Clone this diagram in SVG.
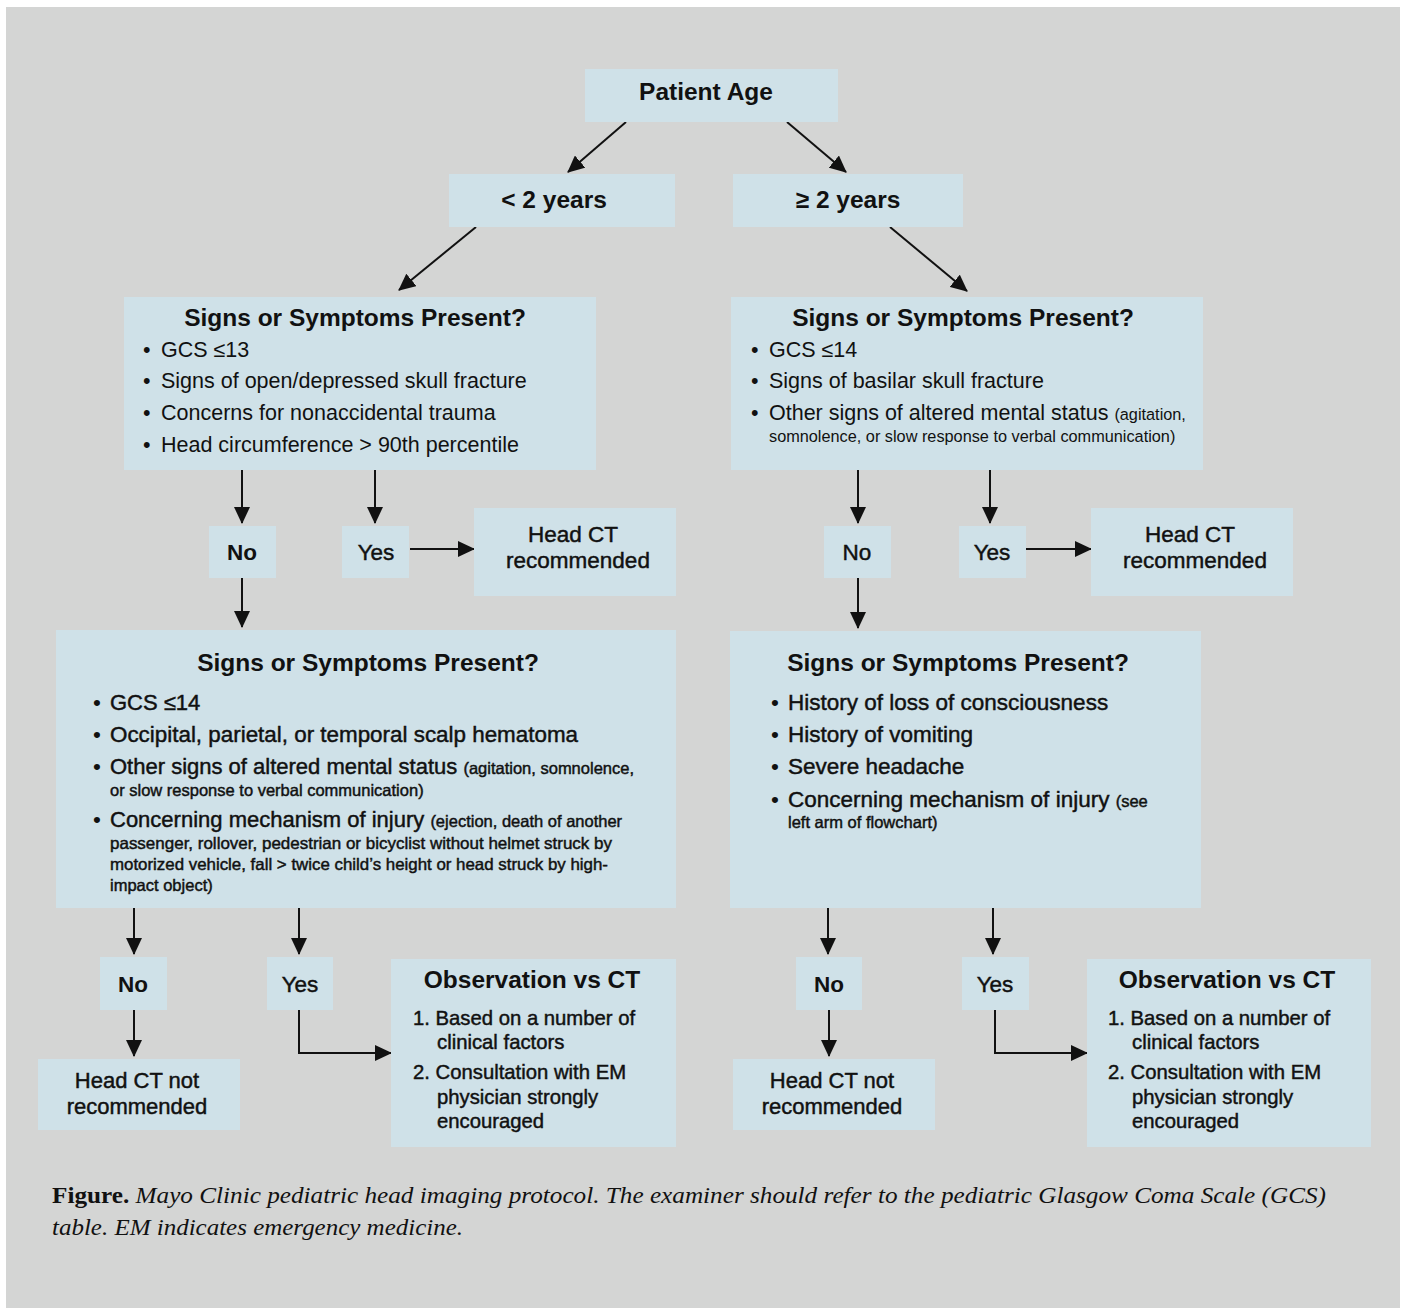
<svg xmlns="http://www.w3.org/2000/svg" width="1403" height="1308" viewBox="0 0 1403 1308">
<style>
.box{fill:#cfe1e8}
.t{font-family:"Liberation Sans",Arial,sans-serif;fill:#111}
.b{font-weight:bold}
.md{stroke:#111;stroke-width:0.45}
.h{font-size:24.5px;font-weight:bold}
.m{font-size:21.5px}
.l{font-size:22.5px}
.s{font-size:16.5px}
.o{font-size:20.3px}
.c{text-anchor:middle}
.cap{font-family:"Liberation Serif","Times New Roman",serif;font-size:24px;fill:#111}
.ln{stroke:#111;stroke-width:2;fill:none}
</style>
<defs>
<marker id="ah" markerUnits="userSpaceOnUse" markerWidth="18" markerHeight="16" refX="16" refY="8" orient="auto">
<path d="M0,0 L17,8 L0,16 Z" fill="#111"/>
</marker>
</defs>
<rect x="0" y="0" width="1403" height="1308" fill="#ffffff"/>
<rect x="6" y="7" width="1394" height="1301" fill="#d4d5d4"/>

<g id="connectors">
<line class="ln" x1="626" y1="122" x2="568" y2="172" marker-end="url(#ah)"/>
<line class="ln" x1="787" y1="122" x2="846" y2="172" marker-end="url(#ah)"/>
<line class="ln" x1="476" y1="227" x2="399" y2="290" marker-end="url(#ah)"/>
<line class="ln" x1="890" y1="227" x2="967" y2="291" marker-end="url(#ah)"/>
<line class="ln" x1="242" y1="470" x2="242" y2="523" marker-end="url(#ah)"/>
<line class="ln" x1="375" y1="470" x2="375" y2="523" marker-end="url(#ah)"/>
<line class="ln" x1="410" y1="549" x2="474" y2="549" marker-end="url(#ah)"/>
<line class="ln" x1="242" y1="578" x2="242" y2="627" marker-end="url(#ah)"/>
<line class="ln" x1="858" y1="470" x2="858" y2="523" marker-end="url(#ah)"/>
<line class="ln" x1="990" y1="470" x2="990" y2="523" marker-end="url(#ah)"/>
<line class="ln" x1="1026" y1="549" x2="1091" y2="549" marker-end="url(#ah)"/>
<line class="ln" x1="858" y1="578" x2="858" y2="628" marker-end="url(#ah)"/>
<line class="ln" x1="134" y1="908" x2="134" y2="954" marker-end="url(#ah)"/>
<line class="ln" x1="299" y1="908" x2="299" y2="954" marker-end="url(#ah)"/>
<line class="ln" x1="134" y1="1010" x2="134" y2="1056" marker-end="url(#ah)"/>
<polyline class="ln" points="299,1010 299,1053 391,1053" marker-end="url(#ah)"/>
<line class="ln" x1="828" y1="908" x2="828" y2="954" marker-end="url(#ah)"/>
<line class="ln" x1="993" y1="908" x2="993" y2="954" marker-end="url(#ah)"/>
<line class="ln" x1="829" y1="1010" x2="829" y2="1056" marker-end="url(#ah)"/>
<polyline class="ln" points="995,1010 995,1053 1087,1053" marker-end="url(#ah)"/>
</g>

<g id="patient-age">
<rect class="box" x="585" y="69" width="253" height="53"/>
<text class="t h c" x="706" y="100" font-size="25.5">Patient Age</text>
</g>
<g id="under-2">
<rect class="box" x="449" y="174" width="226" height="53"/>
<text class="t h c" x="554" y="208">&lt; 2 years</text>
</g>
<g id="over-2">
<rect class="box" x="733" y="174" width="230" height="53"/>
<text class="t h c" x="848" y="208">≥ 2 years</text>
</g>

<g id="left-signs-1">
<rect class="box" x="124" y="297" width="472" height="173"/>
<text class="t h c" x="355" y="326">Signs or Symptoms Present?</text>
<text class="t m" x="143" y="357">•</text><text class="t m" x="161" y="357">GCS ≤13</text>
<text class="t m" x="143" y="388">•</text><text class="t m" x="161" y="388">Signs of open/depressed skull fracture</text>
<text class="t m" x="143" y="420">•</text><text class="t m" x="161" y="420">Concerns for nonaccidental trauma</text>
<text class="t m" x="143" y="452">•</text><text class="t m" x="161" y="452">Head circumference &gt; 90th percentile</text>
</g>
<g id="right-signs-1">
<rect class="box" x="731" y="297" width="472" height="173"/>
<text class="t h c" x="963" y="326">Signs or Symptoms Present?</text>
<text class="t m" x="751" y="357">•</text><text class="t m" x="769" y="357">GCS ≤14</text>
<text class="t m" x="751" y="388">•</text><text class="t m" x="769" y="388">Signs of basilar skull fracture</text>
<text class="t m" x="751" y="420">•</text><text class="t m" x="769" y="420">Other signs of altered mental status <tspan font-size="16.3">(agitation,</tspan></text>
<text class="t" x="769" y="442" font-size="16.3">somnolence, or slow response to verbal communication)</text>
</g>

<g id="left-no-1">
<rect class="box" x="209" y="526" width="67" height="52"/>
<text class="t l b c" x="242" y="560">No</text>
</g>
<g id="left-yes-1">
<rect class="box" x="342" y="526" width="67" height="52"/>
<text class="t l md c" x="376" y="560">Yes</text>
</g>
<g id="left-ct-rec">
<rect class="box" x="474" y="508" width="202" height="88"/>
<text class="t l md c" x="573" y="542">Head CT</text>
<text class="t l md c" x="578" y="568">recommended</text>
</g>
<g id="right-no-1">
<rect class="box" x="824" y="526" width="67" height="52"/>
<text class="t l md c" x="857" y="560">No</text>
</g>
<g id="right-yes-1">
<rect class="box" x="959" y="526" width="67" height="52"/>
<text class="t l md c" x="992" y="560">Yes</text>
</g>
<g id="right-ct-rec">
<rect class="box" x="1091" y="508" width="202" height="88"/>
<text class="t l md c" x="1190" y="542">Head CT</text>
<text class="t l md c" x="1195" y="568">recommended</text>
</g>

<g id="left-signs-2">
<rect class="box" x="56" y="630" width="620" height="278"/>
<text class="t h c" x="368" y="671">Signs or Symptoms Present?</text>
<text class="t l" x="93" y="710">•</text><text class="t md" x="110" y="710" font-size="22">GCS ≤14</text>
<text class="t l" x="93" y="742">•</text><text class="t md" x="110" y="742" font-size="22" textLength="468" lengthAdjust="spacingAndGlyphs">Occipital, parietal, or temporal scalp hematoma</text>
<text class="t l" x="93" y="774">•</text><text class="t md" x="110" y="774" font-size="22">Other signs of altered mental status <tspan class="s">(agitation, somnolence,</tspan></text>
<text class="t s md" x="110" y="796" stroke-width="0.3">or slow response to verbal communication)</text>
<text class="t l" x="93" y="827">•</text><text class="t md" x="110" y="827" font-size="22">Concerning mechanism of injury <tspan class="s">(ejection, death of another</tspan></text>
<text class="t s md" x="110" y="849" stroke-width="0.3" textLength="502" lengthAdjust="spacingAndGlyphs">passenger, rollover, pedestrian or bicyclist without helmet struck by</text>
<text class="t s md" x="110" y="870" stroke-width="0.3" textLength="498" lengthAdjust="spacingAndGlyphs">motorized vehicle, fall &gt; twice child’s height or head struck by high-</text>
<text class="t s md" x="110" y="891" stroke-width="0.3">impact object)</text>
</g>
<g id="right-signs-2">
<rect class="box" x="730" y="631" width="471" height="277"/>
<text class="t h c" x="958" y="671">Signs or Symptoms Present?</text>
<text class="t l" x="771" y="710">•</text><text class="t l md" x="788" y="710">History of loss of consciousness</text>
<text class="t l" x="771" y="742">•</text><text class="t l md" x="788" y="742">History of vomiting</text>
<text class="t l" x="771" y="774">•</text><text class="t l md" x="788" y="774">Severe headache</text>
<text class="t l" x="771" y="807">•</text><text class="t l md" x="788" y="807">Concerning mechanism of injury <tspan class="s">(see</tspan></text>
<text class="t s md" x="788" y="828" stroke-width="0.3">left arm of flowchart)</text>
</g>

<g id="left-no-2">
<rect class="box" x="100" y="957" width="67" height="53"/>
<text class="t l b c" x="133" y="992">No</text>
</g>
<g id="left-yes-2">
<rect class="box" x="267" y="957" width="66" height="53"/>
<text class="t l md c" x="300" y="992">Yes</text>
</g>
<g id="left-ct-not">
<rect class="box" x="38" y="1059" width="202" height="71"/>
<text class="t md c" x="137" y="1088" font-size="22">Head CT not</text>
<text class="t md c" x="137" y="1114" font-size="22">recommended</text>
</g>
<g id="left-obs">
<rect class="box" x="391" y="959" width="285" height="188"/>
<text class="t h c" x="532" y="988" font-size="25">Observation vs CT</text>
<text class="t o md" x="413" y="1025">1. Based on a number of</text>
<text class="t o md" x="437" y="1049">clinical factors</text>
<text class="t o md" x="413" y="1079">2. Consultation with EM</text>
<text class="t o md" x="437" y="1104">physician strongly</text>
<text class="t o md" x="437" y="1128">encouraged</text>
</g>

<g id="right-no-2">
<rect class="box" x="796" y="957" width="66" height="53"/>
<text class="t l b c" x="829" y="992">No</text>
</g>
<g id="right-yes-2">
<rect class="box" x="962" y="957" width="67" height="53"/>
<text class="t l md c" x="995" y="992">Yes</text>
</g>
<g id="right-ct-not">
<rect class="box" x="733" y="1059" width="202" height="71"/>
<text class="t md c" x="832" y="1088" font-size="22">Head CT not</text>
<text class="t md c" x="832" y="1114" font-size="22">recommended</text>
</g>
<g id="right-obs">
<rect class="box" x="1087" y="959" width="284" height="188"/>
<text class="t h c" x="1227" y="988" font-size="25">Observation vs CT</text>
<text class="t o md" x="1108" y="1025">1. Based on a number of</text>
<text class="t o md" x="1132" y="1049">clinical factors</text>
<text class="t o md" x="1108" y="1079">2. Consultation with EM</text>
<text class="t o md" x="1132" y="1104">physician strongly</text>
<text class="t o md" x="1132" y="1128">encouraged</text>
</g>

<g id="caption">
<text class="cap" x="52" y="1203" textLength="1274" lengthAdjust="spacingAndGlyphs"><tspan font-weight="bold">Figure.</tspan><tspan font-style="italic"> Mayo Clinic pediatric head imaging protocol. The examiner should refer to the pediatric Glasgow Coma Scale (GCS)</tspan></text>
<text class="cap" x="52" y="1235" font-style="italic" textLength="411" lengthAdjust="spacingAndGlyphs">table. EM indicates emergency medicine.</text>
</g>
</svg>
